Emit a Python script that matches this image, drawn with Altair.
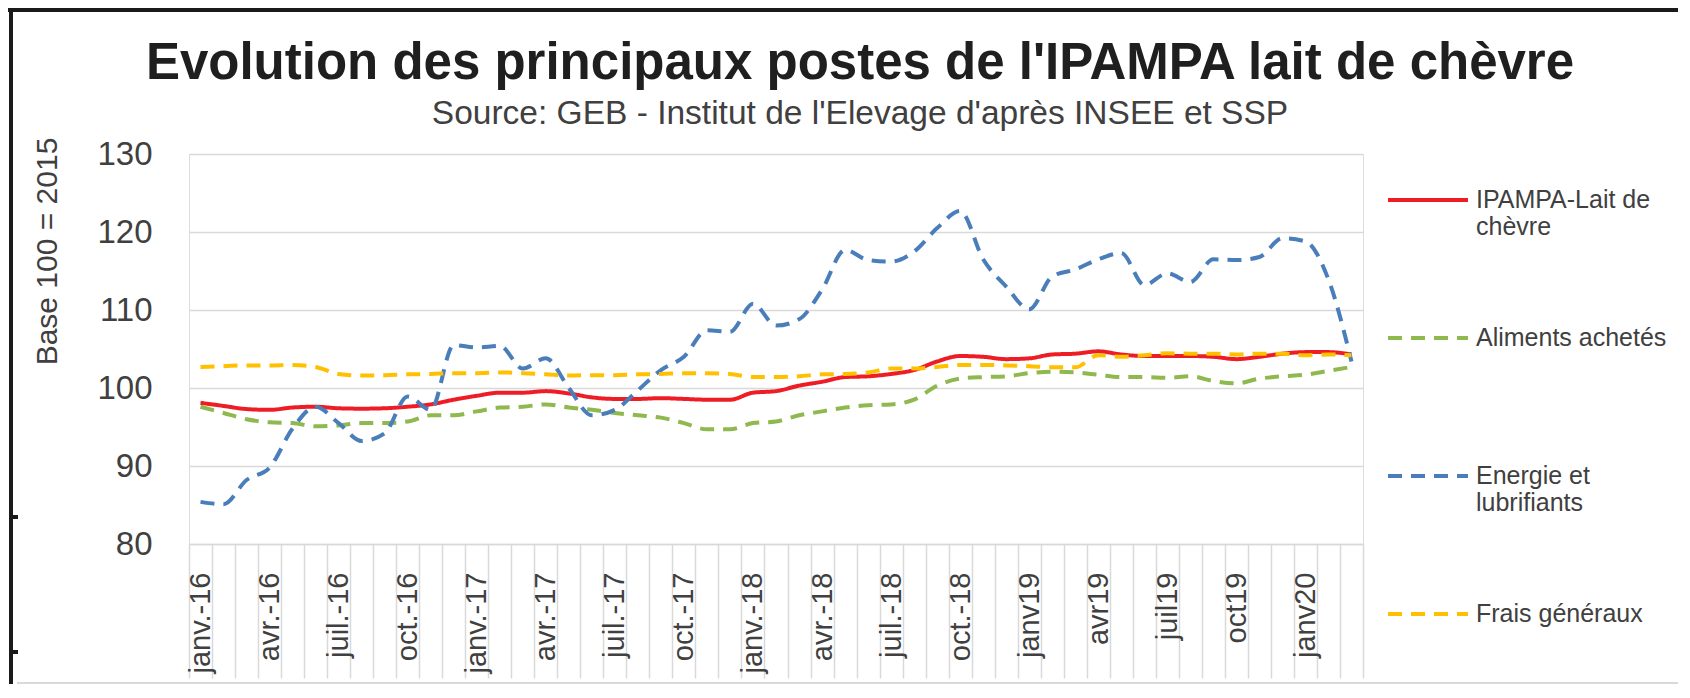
import altair as alt
import pandas as pd

months = [
    'janv.-16', 'févr.-16', 'mars-16', 'avr.-16', 'mai-16', 'juin-16', 'juil.-16', 'août-16', 'sept.-16', 'oct.-16', 'nov.-16', 'déc.-16',
    'janv.-17', 'févr.-17', 'mars-17', 'avr.-17', 'mai-17', 'juin-17', 'juil.-17', 'août-17', 'sept.-17', 'oct.-17', 'nov.-17', 'déc.-17',
    'janv.-18', 'févr.-18', 'mars-18', 'avr.-18', 'mai-18', 'juin-18', 'juil.-18', 'août-18', 'sept.-18', 'oct.-18', 'nov.-18', 'déc.-18',
    'janv19', 'févr19', 'mars19', 'avr19', 'mai19', 'juin19', 'juil19', 'août19', 'sept19', 'oct19', 'nov19', 'déc19',
    'janv20', 'févr20', 'mars20',
]

ipampa = [98.1, 97.7, 97.3, 97.2, 97.5, 97.6, 97.4, 97.35, 97.4, 97.6, 97.9, 98.5, 99.0, 99.4, 99.4, 99.6, 99.3,
          98.8, 98.6, 98.6, 98.7, 98.6, 98.5, 98.5, 99.4, 99.6, 100.3, 100.8, 101.4, 101.5, 101.8, 102.3, 103.4, 104.1,
          104.0, 103.7, 103.8, 104.3, 104.4, 104.7, 104.3, 104.1, 104.1, 104.1, 104.0, 103.7, 104.0, 104.4, 104.6, 104.6, 104.3]

aliments = [97.6, 96.8, 96.0, 95.6, 95.5, 95.1, 95.2, 95.5, 95.5, 95.7, 96.5, 96.5, 97.0, 97.5, 97.6, 97.9, 97.5,
            97.2, 96.8, 96.5, 96.2, 95.5, 94.7, 94.7, 95.5, 95.7, 96.5, 97.0, 97.5, 97.8, 97.9, 98.5, 100.3, 101.2,
            101.4, 101.5, 101.9, 102.1, 102.0, 101.7, 101.4, 101.4, 101.3, 101.5, 100.9, 100.6, 101.2, 101.5, 101.7, 102.2, 102.7]

energie = [85.4, 85.1, 88.2, 89.8, 94.8, 97.6, 95.5, 93.2, 94.2, 98.9, 97.2, 105.5, 105.2, 105.4, 102.5, 103.8, 100.0,
           96.5, 97.2, 99.7, 102.3, 104.0, 107.4, 107.2, 110.8, 108.0, 108.8, 112.6, 117.7, 116.4, 116.2, 117.5, 120.5, 122.7,
           116.5, 113.0, 110.1, 114.3, 115.2, 116.5, 117.3, 113.2, 114.7, 113.6, 116.5, 116.4, 116.8, 119.2, 118.8, 113.9, 103.4]

frais = [102.7, 102.8, 102.9, 102.9, 102.95, 102.7, 101.8, 101.6, 101.65, 101.75, 101.8, 101.9, 101.9, 102.0, 101.9, 101.75, 101.6,
         101.65, 101.65, 101.75, 101.8, 101.9, 101.9, 101.8, 101.4, 101.4, 101.5, 101.75, 101.8, 102.0, 102.5, 102.5, 102.7, 102.95,
         102.95, 102.9, 102.8, 102.65, 102.65, 104.2, 104.0, 104.2, 104.45, 104.4, 104.4, 104.3, 104.4, 104.4, 104.2, 104.3, 104.2]

series = ['IPAMPA-Lait de chèvre', 'Aliments achetés', 'Energie et lubrifiants', 'Frais généraux']
colors = ['#ee1c25', '#8fb84f', '#4a7ebb', '#ffc000']
dashes = [[1, 0], [14, 9], [14, 9], [14, 9]]
y_ticks = [80, 90, 100, 110, 120, 130]

rows = []
for name, vals in zip(series, [ipampa, aliments, energie, frais]):
    for m, v in zip(months, vals):
        rows.append({'mois': m, 'serie': name, 'valeur': v})
df = pd.DataFrame(rows)

FONT = 'Liberation Sans'
GREY = '#404040'

label_expr = ("datum.label == 'IPAMPA-Lait de chèvre' ? ['IPAMPA-Lait de', 'chèvre'] : "
              "datum.label == 'Energie et lubrifiants' ? ['Energie et', 'lubrifiants'] : datum.label")


def make_legend():
    return alt.Legend(title=None, orient='none', legendX=1197, legendY=4,
                      symbolType='stroke', symbolSize=6400, symbolStrokeWidth=4,
                      labelFont=FONT, labelFontSize=25, labelColor=GREY,
                      labelOffset=6, rowPadding=56, gridAlign='all', labelLimit=400,
                      labelExpr=label_expr)


lines = alt.Chart(df).mark_line(strokeWidth=4, interpolate='monotone').encode(
    x=alt.X('mois:N', sort=months,
            scale=alt.Scale(type='band', paddingInner=0, paddingOuter=0),
            axis=alt.Axis(title=None, labelAngle=270, labelAlign='right', labelBaseline='middle',
                          labelPadding=-106, tickSize=134, tickColor='#d9d9d9', tickWidth=1.5,
                          tickBand='extent', domainColor='#d9d9d9', domainWidth=1.5,
                          labelFont=FONT, labelFontSize=29, labelColor=GREY, grid=False,
                          labelOverlap=False,
                          labelExpr="test(/^(janv|avr|juil|oct)/, datum.label) ? datum.label : ''")),
    y=alt.Y('valeur:Q', scale=alt.Scale(domain=[80, 130], nice=False, zero=False),
            axis=alt.Axis(values=y_ticks, title='Base 100 = 2015', titleFont=FONT, titleFontSize=30,
                          titleFontWeight='normal', titleColor=GREY, titleAngle=270,
                          titleX=-142, titleY=97, titleAlign='center', titleBaseline='middle',
                          labelFont=FONT, labelFontSize=33, labelColor=GREY, labelPadding=37,
                          ticks=False, domain=False, grid=True, gridColor='#d9d9d9', gridWidth=1.5)),
    color=alt.Color('serie:N', sort=series, scale=alt.Scale(domain=series, range=colors),
                    legend=make_legend()),
    strokeDash=alt.StrokeDash('serie:N', sort=series, scale=alt.Scale(domain=series, range=dashes),
                              legend=make_legend()),
)


def hrule(x1, x2, y, color, w):
    return alt.Chart(df).mark_rule(color=color, strokeWidth=w).encode(
        x=alt.value(x1), x2=alt.value(x2), y=alt.value(y))


def vrule(x, y1, y2, color, w):
    return alt.Chart(df).mark_rule(color=color, strokeWidth=w).encode(
        x=alt.value(x), y=alt.value(y1), y2=alt.value(y2))


# frame of the surrounding document (page border and table cells above the chart)
deco = [
    hrule(-181, 1501, -144, '#1a1a1a', 3),
    vrule(-178, -146, 540, '#1a1a1a', 4),
    hrule(-178, -171, 363, '#1a1a1a', 3),
    hrule(-178, -171, 498, '#1a1a1a', 3),
    hrule(-172, 1501, 529, '#d9d9d9', 2),
]
for xs in [456, 598, 774, 954, 1137]:
    deco.append(vrule(xs, -146, -144, '#1a1a1a', 2))

chart = alt.layer(lines, *deco).properties(
    width=1174, height=390,
    padding={'left': 181, 'top': 146, 'right': 315, 'bottom': 140},
    autosize=alt.AutoSizeParams(type='none'),
    title=alt.Title(text="Evolution des principaux postes de l'IPAMPA lait de chèvre",
                    subtitle="Source: GEB - Institut de l'Elevage d'après INSEE et SSP",
                    anchor='middle', frame='group', dx=84, offset=-125,
                    font=FONT, fontSize=51, fontWeight='bold', color='#1f1f1f',
                    subtitleFont=FONT, subtitleFontSize=33.5, subtitleColor=GREY, subtitlePadding=8),
).configure_view(stroke=None).configure(background='white')

chart.save('out.html', embed_options={'renderer': 'svg', 'actions': False})
